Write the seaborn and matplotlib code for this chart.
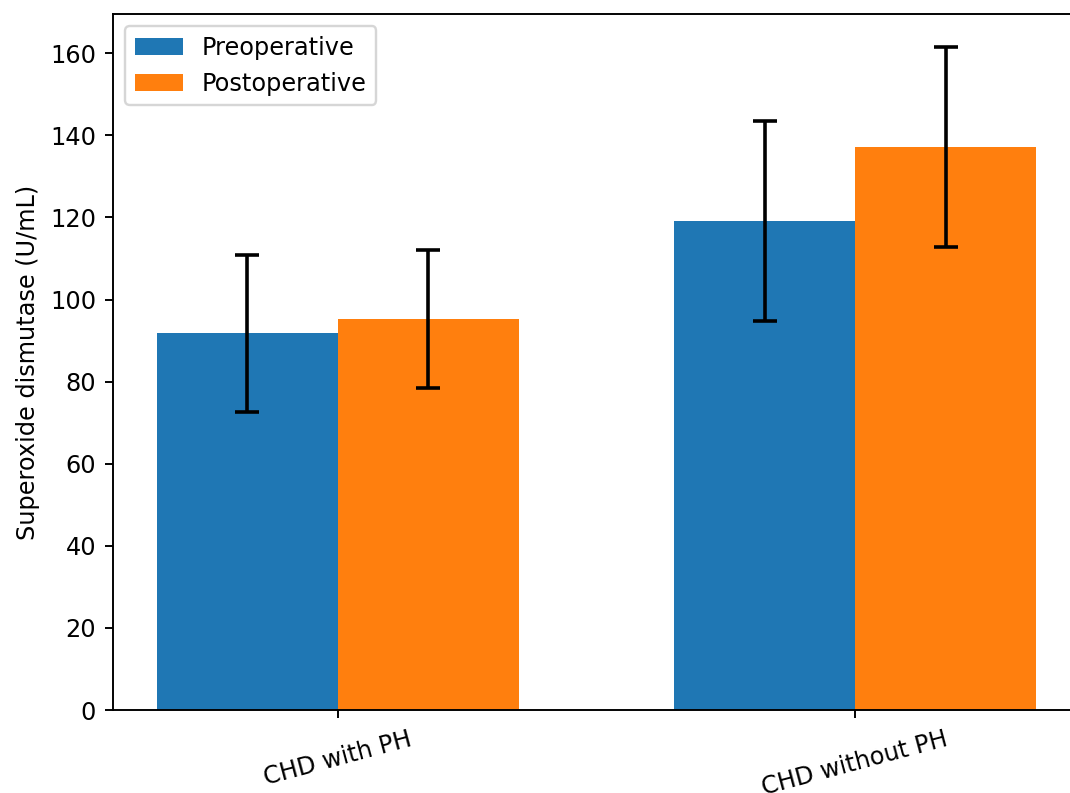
import pandas as pd
import numpy as np
import matplotlib
matplotlib.use("Agg")
import matplotlib.pyplot as plt
import seaborn as sns

# values
groups = ["CHD with PH", "CHD without PH"]
phases = ["Preoperative", "Postoperative"]
pre_mean = [91.8, 119.1]
pre_sd = [19.1, 24.3]
post_mean = [95.3, 137.1]
post_sd = [16.8, 24.4]

df = pd.DataFrame({
    "Group": groups * 2,
    "Phase": [phases[0]] * len(groups) + [phases[1]] * len(groups),
    "Mean": pre_mean + post_mean,
    "SD": pre_sd + post_sd,
})

dpi = 173
fig = plt.figure(figsize=(1070 / dpi, 793 / dpi), dpi=dpi)
ax = fig.add_axes([113 / 1070, 83 / 793, 967 / 1070, 696 / 793])

sns.barplot(data=df, x="Group", y="Mean", hue="Phase", order=groups,
            hue_order=phases, palette=["#1f77b4", "#ff7f0e"], saturation=1,
            width=0.7, gap=0, errorbar=None, ax=ax)

# error bars at the centre of each bar
bars = [p for p in ax.patches if p.get_height() > 0][:len(df)]
for bar, (_, row) in zip(bars, df.iterrows()):
    cx = bar.get_x() + bar.get_width() / 2
    ax.errorbar(cx, row["Mean"], yerr=row["SD"], fmt="none",
                ecolor="black", capsize=5, elinewidth=1.5, capthick=1.5)

x0 = min(b.get_x() for b in bars)
x1 = max(b.get_x() + b.get_width() for b in bars)
pad = 0.05 * (x1 - x0)
ax.set_xlim(x0 - pad, x1 + pad)
top = max(m + s for m, s in zip(df["Mean"], df["SD"]))
ax.set_ylim(0, top * 1.05)

ax.set_xlabel("")
ax.set_ylabel("Superoxide dismutase (U/mL)")
plt.xticks(rotation=15)
ax.legend(loc="upper left")

fig.savefig("out.png", dpi=dpi)
